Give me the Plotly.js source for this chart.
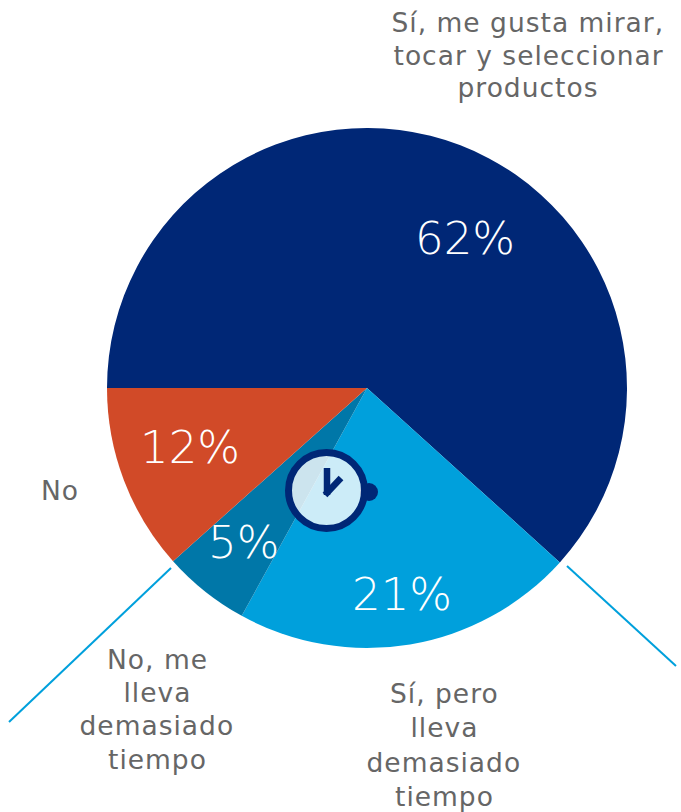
<!DOCTYPE html>
<html><head><meta charset="utf-8">
<script src="https://cdn.plot.ly/plotly-3.0.1.min.js"></script>
<style>html,body{margin:0;padding:0;background:#fff}</style></head>
<body><div id="c" style="width:681px;height:812px"></div>
<script>
const categories = ["Sí, me gusta mirar, tocar y seleccionar productos","Sí, pero lleva demasiado tiempo","No, me lleva demasiado tiempo","No"];
const values = [61.7,21.3,5.4,11.6];
const colors = ["#002776","#00a0dc","#0077a8","#d14a28"];
const W=681,H=812;
const px=x=>x/W, py=y=>1-y/H;
const valuePos=[[465,238],[402,594],[243,542],[190,447]];
const catLines=[
 {l:["Sí, me gusta mirar,","tocar y seleccionar","productos"],x:528,y:[22,55,88]},
 {l:["Sí, pero","lleva","demasiado","tiempo"],x:444,y:[693,727,762,796]},
 {l:["No, me","lleva","demasiado","tiempo"],x:157,y:[659,692,725,759]},
 {l:["No"],x:60,y:[490]}];
const ann=[];
values.forEach((v,i)=>ann.push({xref:'paper',yref:'paper',x:px(valuePos[i][0]),y:py(valuePos[i][1]),text:Math.round(v)+'%',showarrow:false,xanchor:'center',yanchor:'middle',font:{family:'"DejaVu Sans"',weight:200,size:45,color:'#fff'}}));
catLines.forEach(c=>c.l.forEach((t,i)=>ann.push({xref:'paper',yref:'paper',x:px(c.x),y:py(c.y[i]),text:t,showarrow:false,xanchor:'center',yanchor:'middle',align:'center',font:{family:'"DejaVu Sans"',size:26.5,color:'#666'}})));
const circ=(cx,cy,r,o)=>Object.assign({type:'circle',xref:'paper',yref:'paper',x0:px(cx-r),x1:px(cx+r),y0:py(cy+r),y1:py(cy-r)},o);
const ln=(a,b,c,d,col,w)=>({type:'line',xref:'paper',yref:'paper',x0:px(a),y0:py(b),x1:px(c),y1:py(d),line:{color:col,width:w}});
const shapes=[
 ln(567,566,676,666,'#00a0dc',2),
 ln(171,568,9,722,'#00a0dc',2),
 circ(369,492,9,{fillcolor:'#002776',line:{width:0}}),
 circ(326.5,490.5,38,{fillcolor:'rgba(255,255,255,0.8)',line:{color:'#002776',width:7}}),
 ln(327,468,327,495,'#002776',6.5),
 ln(325,495,341,478,'#002776',6.5)
];
Plotly.newPlot('c',[{type:'pie',labels:categories,values:values,sort:false,direction:'clockwise',rotation:270,
 marker:{colors:colors,line:{width:0}},textinfo:'none',hoverinfo:'label+percent',showlegend:false,
 domain:{x:[px(107),px(627)],y:[py(648),py(128)]}}],
 {width:W,height:H,margin:{l:0,r:0,t:0,b:0},paper_bgcolor:'#fff',showlegend:false,annotations:ann,shapes:shapes},
 {displayModeBar:false}).then(()=>{
  document.querySelectorAll('.annotation-text').forEach(t=>{ if(!t.textContent.includes('%')) t.style.letterSpacing='1px'; });
 });
</script></body></html>
